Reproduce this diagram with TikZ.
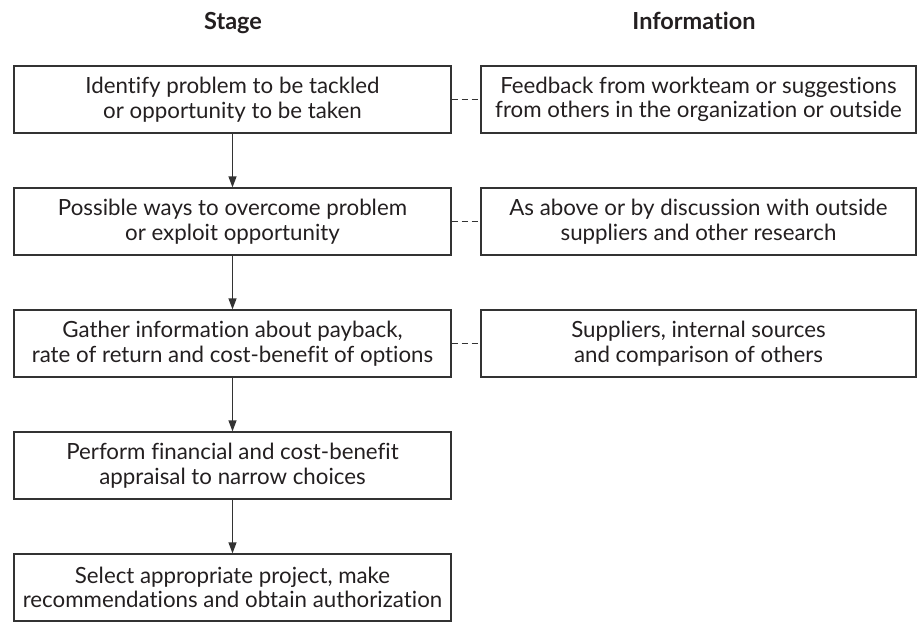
\documentclass[tikz,border=0pt]{standalone}
\usepackage{fontspec}
\setmainfont{Lato}[Ligatures=NoCommon]
\usetikzlibrary{arrows.meta}
\definecolor{linecol}{HTML}{333333}
\definecolor{textcol}{HTML}{231F20}
\begin{document}
\begin{tikzpicture}[x=1pt,y=-1pt,
  stagebox/.style={draw=linecol, line width=1.3pt, minimum width=437pt, minimum height=67pt, inner sep=0pt, align=center, text=textcol, font=\fontsize{22.3}{24.5}\selectfont},
  infobox/.style={stagebox, minimum width=435pt},
  flow/.style={draw=linecol, line width=1.3pt, -{Triangle[length=11pt,width=8pt]}},
  link/.style={draw=linecol, line width=1pt, dash pattern=on 6pt off 4pt},
  header/.style={text=textcol, font=\bfseries\fontsize{23.5}{26}\selectfont, anchor=base}]
\useasboundingbox (0,0) rectangle (919,622);
\node[header] (hs) at (233,29) {Stage};
\node[header] (hi) at (694,29) {Information};
\node[stagebox] (s1) at (232.5,99.5) {Identify problem to be tackled\\or opportunity to be taken};
\node[stagebox] (s2) at (232.5,221.5) {Possible ways to overcome problem\\or exploit opportunity};
\node[stagebox] (s3) at (232.5,343.5) {Gather information about payback,\\rate of return and cost-benefit of options};
\node[stagebox] (s4) at (232.5,465.5) {Perform financial and cost-benefit\\appraisal to narrow choices};
\node[stagebox] (s5) at (232.5,587.5) {Select appropriate project, make\\recommendations and obtain authorization};
\node[infobox] (i1) at (698.5,99.5) {Feedback from workteam or suggestions\\from others in the organization or outside};
\node[infobox] (i2) at (698.5,221.5) {As above or by discussion with outside\\suppliers and other research};
\node[infobox] (i3) at (698.5,343.5) {Suppliers, internal sources\\and comparison of others};
\draw[flow] (s1.south) -- (s2.north);
\draw[flow] (s2.south) -- (s3.north);
\draw[flow] (s3.south) -- (s4.north);
\draw[flow] (s4.south) -- (s5.north);
\draw[link] (s1.east) -- (i1.west);
\draw[link] (s2.east) -- (i2.west);
\draw[link] (s3.east) -- (i3.west);
\end{tikzpicture}
\end{document}
